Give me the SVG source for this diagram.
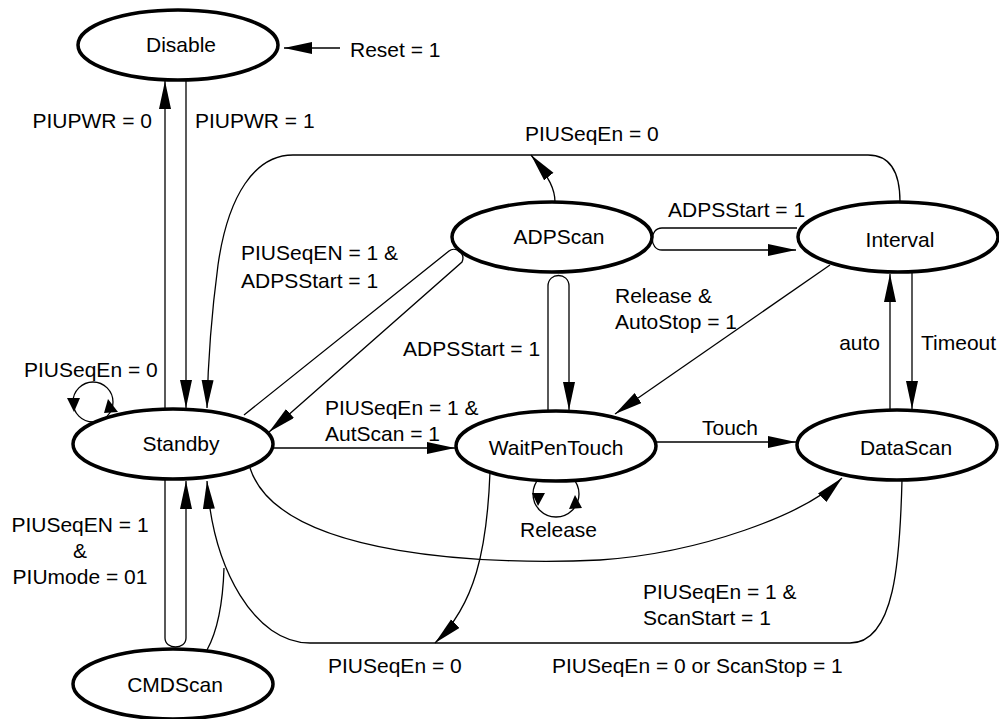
<svg xmlns="http://www.w3.org/2000/svg" width="999" height="719" viewBox="0 0 999 719">
<defs>
<marker id="ah" markerUnits="userSpaceOnUse" markerWidth="30" markerHeight="14" refX="28" refY="6" orient="auto">
<path d="M0,0 L28,6 L0,12 z" fill="#000"/>
</marker>
<style>
.n ellipse{fill:#fff;stroke:#000;stroke-width:3.5}
text{font-family:"Liberation Sans",Arial,sans-serif;font-size:21px;fill:#000}
.n text{text-anchor:middle}
.c path,.c line,.c circle{fill:none;stroke:#000;stroke-width:1.3}
.c .a{marker-end:url(#ah)}
.c polygon{fill:#000;stroke:none}
</style>
</defs>
<rect width="999" height="719" fill="#fff"/>
<g id="connectors" class="c">
<path class="a" d="M340,48 L284,48"/>
<path class="a" d="M165,409 L165,81"/>
<path class="a" d="M186,80 L186,408"/>
<path class="a" d="M900,202 C900,172 890,155 868,155 L293,155 C255,155 228,195 218,265 C212,310 208,360 207,408"/>
<path class="a" d="M555,202 C555,190 550,178 531,155"/>
<path class="a" d="M244,415 L449,251 C455,246 466,253 462,262 L269,432"/>
<path class="a" d="M797,228 L662,228 C649,228 649,250 662,250 L796,250"/>
<path class="a" d="M548,411 L548,286 C548,272 569,272 569,286 L569,410"/>
<path class="a" d="M830,265 L615,414"/>
<path class="a" d="M890,410 L890,274"/>
<path class="a" d="M912,273 L912,409"/>
<path class="a" d="M656,442 L796,442"/>
<path class="a" d="M273,448 L455,448"/>
<path class="a" d="M250,468 C280,560 500,565 600,560 C700,553 805,515 842,478"/>
<path class="a" d="M902,480 C900,560 895,643 850,643 L310,643 C255,643 213,570 207,481"/>
<path d="M207,650 C218,630 223,600 224,568"/>
<path class="a" d="M165,479 L165,638 C165,650 186,650 186,638 L186,481"/>
<path class="a" d="M490,472 C487,550 475,605 435,643"/>
<circle cx="93" cy="402" r="20"/>
<polygon points="67,398 80,398 74,412"/>
<polygon points="108,399 104,413 118,412"/>
<circle cx="556" cy="494" r="23"/>
<polygon points="532,493 545,493 538,506"/>
<polygon points="575,495 569,509 582,508"/>
</g>
<g id="labels">
<text x="350" y="57">Reset = 1</text>
<text x="152" y="128" text-anchor="end">PIUPWR = 0</text>
<text x="195" y="128">PIUPWR = 1</text>
<text x="525" y="141">PIUSeqEn = 0</text>
<text x="241" y="260">PIUSeqEN = 1 &amp;</text>
<text x="241" y="288">ADPSStart = 1</text>
<text x="668" y="217">ADPSStart = 1</text>
<text x="403" y="356">ADPSStart = 1</text>
<text x="615" y="303">Release &amp;</text>
<text x="615" y="329">AutoStop = 1</text>
<text x="880" y="350" text-anchor="end">auto</text>
<text x="921" y="350">Timeout</text>
<text x="24" y="377">PIUSeqEn = 0</text>
<text x="325" y="415">PIUSeqEn = 1 &amp;</text>
<text x="325" y="441">AutScan = 1</text>
<text x="702" y="435">Touch</text>
<text x="520" y="537">Release</text>
<text x="80" y="532" text-anchor="middle">PIUSeqEN = 1</text>
<text x="80" y="558" text-anchor="middle">&amp;</text>
<text x="80" y="584" text-anchor="middle">PIUmode = 01</text>
<text x="643" y="599">PIUSeqEn = 1 &amp;</text>
<text x="643" y="625">ScanStart = 1</text>
<text x="328" y="673">PIUSeqEn = 0</text>
<text x="552" y="673">PIUSeqEn = 0 or ScanStop = 1</text>
</g>
<g id="Disable" class="n"><ellipse cx="178" cy="45" rx="100" ry="35"/><text x="181" y="52">Disable</text></g>
<g id="Standby" class="n"><ellipse cx="173" cy="444" rx="100" ry="35"/><text x="181" y="451">Standby</text></g>
<g id="CMDScan" class="n"><ellipse cx="173" cy="684" rx="100" ry="35"/><text x="175" y="692">CMDScan</text></g>
<g id="ADPScan" class="n"><ellipse cx="552" cy="237" rx="100" ry="35"/><text x="559" y="244">ADPScan</text></g>
<g id="Interval" class="n"><ellipse cx="898" cy="237" rx="100" ry="35"/><text x="900" y="247">Interval</text></g>
<g id="WaitPenTouch" class="n"><ellipse cx="556" cy="446" rx="100" ry="35"/><text x="556" y="455">WaitPenTouch</text></g>
<g id="DataScan" class="n"><ellipse cx="897" cy="445" rx="100" ry="35"/><text x="906" y="455">DataScan</text></g>
</svg>
